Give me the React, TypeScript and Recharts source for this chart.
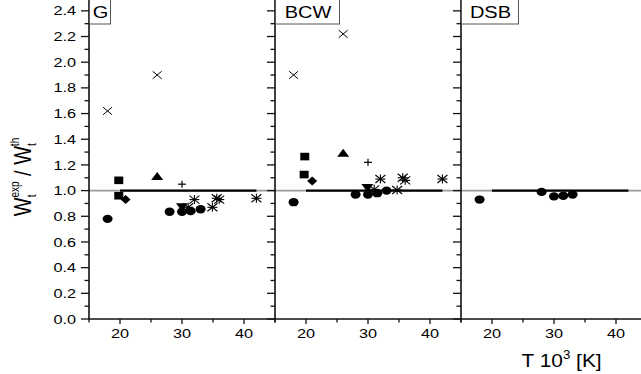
import React from "react";
import {
  ScatterChart,
  Scatter,
  XAxis,
  YAxis,
  ReferenceLine,
} from "recharts";

const FONT = '"Liberation Sans", Arial, sans-serif';
const INK = "#111";

type Pt = [number, number];

const X_TICKS = [15, 20, 25, 30, 35, 40, 45];
const X_LABELS = [20, 30, 40];
const Y_TICKS = [
  0, 0.1, 0.2, 0.3, 0.4, 0.5, 0.6, 0.7, 0.8, 0.9, 1.0, 1.1, 1.2, 1.3, 1.4,
  1.5, 1.6, 1.7, 1.8, 1.9, 2.0, 2.1, 2.2, 2.3, 2.4, 2.5,
];

// panel G
const G_CIRCLES: Pt[] = [[18, 0.78], [28, 0.835], [30, 0.835], [31.4, 0.84], [33, 0.855]];
const G_SQUARES: Pt[] = [[19.8, 1.08], [19.8, 0.96]];
const G_DIAMONDS: Pt[] = [[20.9, 0.93]];
const G_TRIANGLES: Pt[] = [[26, 1.11]];
const G_DOWN: Pt[] = [[30, 0.875]];
const G_CROSSES: Pt[] = [[18, 1.62], [26, 1.9]];
const G_PLUS: Pt[] = [[30, 1.05]];
const G_STARS: Pt[] = [[31, 0.87], [32, 0.93], [34.9, 0.87], [35.6, 0.94], [36, 0.93], [42, 0.94]];

// panel BCW
const B_CIRCLES: Pt[] = [[18, 0.91], [28, 0.97], [30, 0.97], [31.5, 0.98], [33, 1.0]];
const B_SQUARES: Pt[] = [[19.8, 1.265], [19.7, 1.125]];
const B_DIAMONDS: Pt[] = [[21, 1.075]];
const B_TRIANGLES: Pt[] = [[26, 1.29]];
const B_DOWN: Pt[] = [[29.9, 1.025]];
const B_CROSSES: Pt[] = [[18, 1.9], [26, 2.22]];
const B_PLUS: Pt[] = [[30, 1.22]];
const B_STARS: Pt[] = [[31, 1.01], [32, 1.09], [34.7, 1.005], [35.6, 1.1], [36, 1.08], [42, 1.09]];

// panel DSB
const D_CIRCLES: Pt[] = [[18, 0.93], [28, 0.99], [30, 0.955], [31.5, 0.96], [33, 0.97]];

const toRows = (pts: Pt[]) => pts.map(([x, y]) => ({ x, y }));

function Marker({ kind, cx, cy }: { kind: string; cx: number; cy: number }) {
  if (cx == null || cy == null) return null;
  switch (kind) {
    case "circle":
      return <ellipse cx={cx} cy={cy} rx={5} ry={4.2} fill="#000" />;
    case "square":
      return <rect x={cx - 4.5} y={cy - 3.8} width={9} height={7.6} fill="#000" />;
    case "diamond":
      return (
        <polygon
          points={`${cx},${cy - 4.5} ${cx + 5},${cy} ${cx},${cy + 4.5} ${cx - 5},${cy}`}
          fill="#000"
        />
      );
    case "triangle":
      return (
        <polygon
          points={`${cx},${cy - 4.5} ${cx + 6},${cy + 3.5} ${cx - 6},${cy + 3.5}`}
          fill="#000"
        />
      );
    case "down":
      return (
        <polygon
          points={`${cx - 6},${cy - 3.5} ${cx + 6},${cy - 3.5} ${cx},${cy + 4.5}`}
          fill="#000"
        />
      );
    case "cross":
      return (
        <g stroke="#000" strokeWidth={1}>
          <line x1={cx - 4.5} y1={cy - 3.8} x2={cx + 4.5} y2={cy + 3.8} />
          <line x1={cx - 4.5} y1={cy + 3.8} x2={cx + 4.5} y2={cy - 3.8} />
        </g>
      );
    case "plus":
      return (
        <g stroke="#000" strokeWidth={1.2}>
          <line x1={cx - 4} y1={cy} x2={cx + 4} y2={cy} />
          <line x1={cx} y1={cy - 3.5} x2={cx} y2={cy + 3.5} />
        </g>
      );
    case "star":
      return (
        <g stroke="#000" strokeWidth={1.1}>
          <line x1={cx - 5} y1={cy - 4} x2={cx + 5} y2={cy + 4} />
          <line x1={cx - 5} y1={cy + 4} x2={cx + 5} y2={cy - 4} />
          <line x1={cx} y1={cy - 4.5} x2={cx} y2={cy + 4.5} />
          <line x1={cx - 5} y1={cy} x2={cx + 5} y2={cy} />
        </g>
      );
    default:
      return null;
  }
}

function SText({
  x,
  y,
  size,
  anchor = "start",
  sx = 1.25,
  children,
}: {
  x: number;
  y: number;
  size: number;
  anchor?: "start" | "middle" | "end";
  sx?: number;
  children: React.ReactNode;
}) {
  return (
    <text
      transform={`translate(${x},${y}) scale(${sx},1)`}
      textAnchor={anchor}
      fontSize={size}
      fontFamily={FONT}
      fill="#000"
    >
      {children}
    </text>
  );
}

const AXIS_Y = 321; // plot bottom inside chart svg (chart is shifted up 2px)

function YTick(props: any) {
  const { y, payload, axisX, showLabel } = props;
  const v = payload.value as number;
  const major = Math.round(v * 10) % 2 === 0;
  return (
    <g>
      <line x1={axisX - (major ? 8 : 4.5)} x2={axisX} y1={y} y2={y} stroke={INK} strokeWidth={1.3} />
      {showLabel && major && (
        <SText x={axisX - 13} y={y + 4.6} size={13} anchor="end">
          {v.toFixed(1)}
        </SText>
      )}
    </g>
  );
}

function XTick(props: any) {
  const { x, payload } = props;
  const v = payload.value as number;
  const major = X_LABELS.includes(v);
  return (
    <g>
      <line x1={x} x2={x} y1={AXIS_Y} y2={AXIS_Y + (major ? 5 : 3.5)} stroke={INK} strokeWidth={1.3} />
      {major && (
        <SText x={x} y={AXIS_Y + 19.3} size={13} anchor="middle">
          {v}
        </SText>
      )}
    </g>
  );
}

type Series = { kind: string; pts: Pt[] };

const PANELS: { name: string; left: number; width: number; yWidth: number; labels: boolean; series: Series[] }[] = [
  {
    name: "G",
    left: 0,
    width: 280,
    yWidth: 89,
    labels: true,
    series: [
      { kind: "cross", pts: G_CROSSES },
      { kind: "plus", pts: G_PLUS },
      { kind: "star", pts: G_STARS },
      { kind: "square", pts: G_SQUARES },
      { kind: "diamond", pts: G_DIAMONDS },
      { kind: "triangle", pts: G_TRIANGLES },
      { kind: "down", pts: G_DOWN },
      { kind: "circle", pts: G_CIRCLES },
    ],
  },
  {
    name: "BCW",
    left: 265,
    width: 201,
    yWidth: 10,
    labels: false,
    series: [
      { kind: "cross", pts: B_CROSSES },
      { kind: "plus", pts: B_PLUS },
      { kind: "star", pts: B_STARS },
      { kind: "square", pts: B_SQUARES },
      { kind: "diamond", pts: B_DIAMONDS },
      { kind: "triangle", pts: B_TRIANGLES },
      { kind: "down", pts: B_DOWN },
      { kind: "circle", pts: B_CIRCLES },
    ],
  },
  {
    name: "DSB",
    left: 451,
    width: 201,
    yWidth: 10,
    labels: false,
    series: [{ kind: "circle", pts: D_CIRCLES }],
  },
];

function Panel({ p }: { p: (typeof PANELS)[number] }) {
  return (
    <div style={{ position: "absolute", left: p.left, top: -2 }}>
      <ScatterChart width={p.width} height={376} margin={{ top: 0, right: 5, bottom: 25, left: 0 }}>
        <XAxis
          type="number"
          dataKey="x"
          domain={[15, 45]}
          ticks={X_TICKS}
          interval={0}
          height={30}
          tickLine={false}
          axisLine={{ stroke: INK, strokeWidth: 1.6 }}
          tick={(t: any) => <XTick {...t} />}
        />
        <YAxis
          type="number"
          dataKey="y"
          domain={[0, 2.5]}
          ticks={Y_TICKS}
          interval={0}
          width={p.yWidth}
          tickLine={false}
          axisLine={{ stroke: INK, strokeWidth: 1.6 }}
          tick={(t: any) => <YTick {...t} axisX={p.yWidth} showLabel={p.labels} />}
        />
        <ReferenceLine y={1} stroke="#9a9a9a" strokeWidth={1.6} />
        <ReferenceLine
          segment={[
            { x: 20, y: 1 },
            { x: 42, y: 1 },
          ]}
          stroke="#000"
          strokeWidth={2.2}
        />
        {p.series.map((s, i) => (
          <Scatter
            key={i}
            data={toRows(s.pts)}
            isAnimationActive={false}
            shape={(props: any) => <Marker kind={s.kind} cx={props.cx} cy={props.cy} />}
          />
        ))}
      </ScatterChart>
    </div>
  );
}

const BOXES = [
  { name: "G", x: 89, w: 21 },
  { name: "BCW", x: 275, w: 64 },
  { name: "DSB", x: 461, w: 57 },
];

export default function App() {
  return (
    <div
      style={{
        position: "absolute",
        left: 0,
        top: 0,
        width: 641,
        height: 374,
        overflow: "hidden",
        background: "#fff",
      }}
    >
      {PANELS.map((p) => (
        <Panel key={p.name} p={p} />
      ))}
      <svg
        width={641}
        height={374}
        style={{ position: "absolute", left: 0, top: 0, pointerEvents: "none" }}
      >
        {BOXES.map((b) => (
          <g key={b.name}>
            <rect x={b.x + 0.5} y={-1} width={b.w} height={25} fill="#fff" stroke="#555" strokeWidth={1} />
            <SText x={b.x + b.w / 2 + 1} y={18} size={16} anchor="middle">
              {b.name}
            </SText>
          </g>
        ))}
        <text
          transform="translate(31,177) scale(1.2,1) rotate(-90)"
          textAnchor="middle"
          fontFamily={FONT}
          fontSize={20}
          fill="#000"
        >
          W
          <tspan fontSize={10} dy={4}>t</tspan>
          <tspan fontSize={10} dx={-3} dy={-14}>exp</tspan>
          <tspan dy={10}> / W</tspan>
          <tspan fontSize={10} dy={4}>t</tspan>
          <tspan fontSize={10} dx={-3} dy={-14}>th</tspan>
        </text>
        <SText x={521.5} y={366.7} size={19} sx={1.1}>
          T 10
          <tspan fontSize={12} dy={-8}>3</tspan>
          <tspan dy={8}> [K]</tspan>
        </SText>
      </svg>
    </div>
  );
}
